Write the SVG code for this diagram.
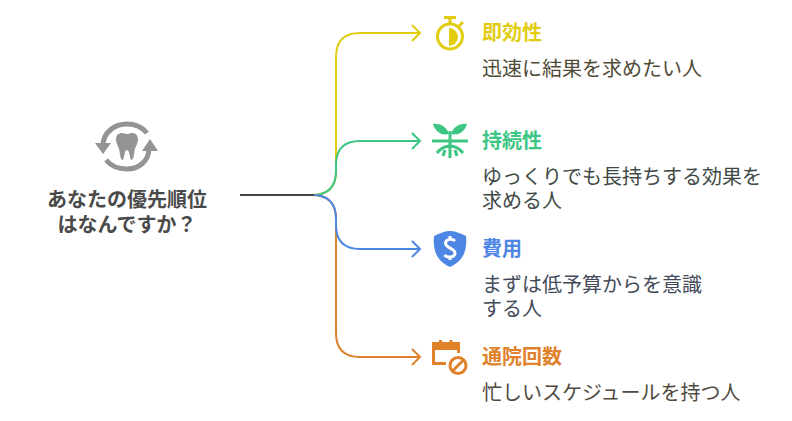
<svg xmlns="http://www.w3.org/2000/svg" width="792" height="421" viewBox="0 0 792 421">
<style>
text{font-family:"Noto Sans CJK JP","Noto Sans",sans-serif}
.t{font-size:20px;font-weight:700}
.d{font-size:20px}
.m{font-size:20px;font-weight:700;fill:#4a4a4a;text-anchor:middle}
</style>
<rect width="792" height="421" fill="#fff"/>
<g id="connectors" fill="none" stroke-width="2">
<path d="M312 195C328 195 336 187 336 171V57C336 41 344 33 360 33H420M412 25L420 33L412 41" stroke="#e2cc11"/>
<path d="M312 195C328 195 336 187 336 171V165C336 149 344 141 360 141H420M412 133L420 141L412 149" stroke="#3cc583"/>
<path d="M312 195C328 195 336 203 336 219V333C336 349 344 357 360 357H420M412 349L420 357L412 365" stroke="#e0822c"/>
<path d="M312 195C328 195 336 203 336 219V225C336 241 344 249 360 249H420M412 241L420 249L412 257" stroke="#4e86e4"/>
<path d="M240 195H314" stroke="#444"/>
</g>
<g id="root">
<g fill="none" stroke="#949494" stroke-width="5">
<path d="M103 146C103 132 115 124 127 124C136 124 142 127 147 133"/>
<path d="M149 148C149 162 138 169 127 169C118 169 111 166 106 160"/>
</g>
<path d="M95 143H111L103 154ZM142 151H158L150 139Z" fill="#949494"/>
<path d="M116 139C116 135 119 133 122 133C124 133 125 134 127 134C129 134 130 133 132 133C135 133 138 135 138 139C138 144 135 147 134.500 151C134 156 133 160 131.500 160C129.500 160 130 150 127 150C124 150 124.500 160 122.500 160C121 160 120 156 119.500 151C119 147 116 144 116 139Z" fill="#949494"/>
<text class="m" x="127" y="207">あなたの優先順位</text>
<text class="m" x="127" y="232">はなんですか？</text>
</g>
<g id="n1">
<g fill="none" stroke="#e2cc11" stroke-width="3"><circle cx="450" cy="36.500" r="12.500"/><path d="M444 17.500H456M450 17.500V24M459 26L463 22"/></g>
<path d="M449 28A9 9 0 0 1 449 46Z" fill="#e2cc11"/>
<text class="t" x="482" y="40" fill="#e2cc11">即効性</text>
<text class="d" x="482" y="76" fill="#4f4b36">迅速に結果を求めたい人</text>
</g>
<g id="n2">
<g fill="none" stroke="#3cc583" stroke-width="3"><path d="M432 141H468M450 131V158M450 146C446 146 441 148 437 153M450 146C454 146 459 148 463 153M445 150L443 156M455 150L457 156"/></g>
<path d="M449 134C447 127 440 123 433 124C435 131 441 136 449 134ZM451 134C453 127 460 123 467 124C465 131 459 136 451 134Z" fill="#3cc583"/>
<text class="t" x="482" y="148" fill="#3cc583">持続性</text>
<text class="d" x="482" y="184" fill="#3f4a45">ゆっくりでも長持ちする効果を</text>
<text class="d" x="482" y="208" fill="#3f4a45">求める人</text>
</g>
<g id="n3">
<path d="M434 236C440 233 445 231 450 231C455 231 460 233 466 236C467 246 466 260 450 267C434 260 433 246 434 236Z" fill="#4e86e4"/>
<path d="M455 241C453 239 446 238 445.500 243C445 248 455 248 455 253C455 258 447 258 444.500 255M450 236V240M450 256V260" fill="none" stroke="#fff" stroke-width="3"/>
<text class="t" x="482" y="256" fill="#4e86e4">費用</text>
<text class="d" x="482" y="292" fill="#434a59">まずは低予算からを意識</text>
<text class="d" x="482" y="316" fill="#434a59">する人</text>
</g>
<g id="n4">
<g fill="none" stroke="#e0822c" stroke-width="3"><path d="M446 363.500H433.500V345H458.500V353"/><circle cx="458" cy="365.500" r="8"/><path d="M452 371.500L464 359.500"/></g>
<path d="M432 342H460V350H432ZM439 340H442V345H439ZM449.500 340H452.500V345H449.500Z" fill="#e0822c"/>
<text class="t" x="482" y="364" fill="#e0822c">通院回数</text>
<text class="d" x="482" y="400" fill="#504a40">忙しいスケジュールを持つ人</text>
</g>
</svg>
